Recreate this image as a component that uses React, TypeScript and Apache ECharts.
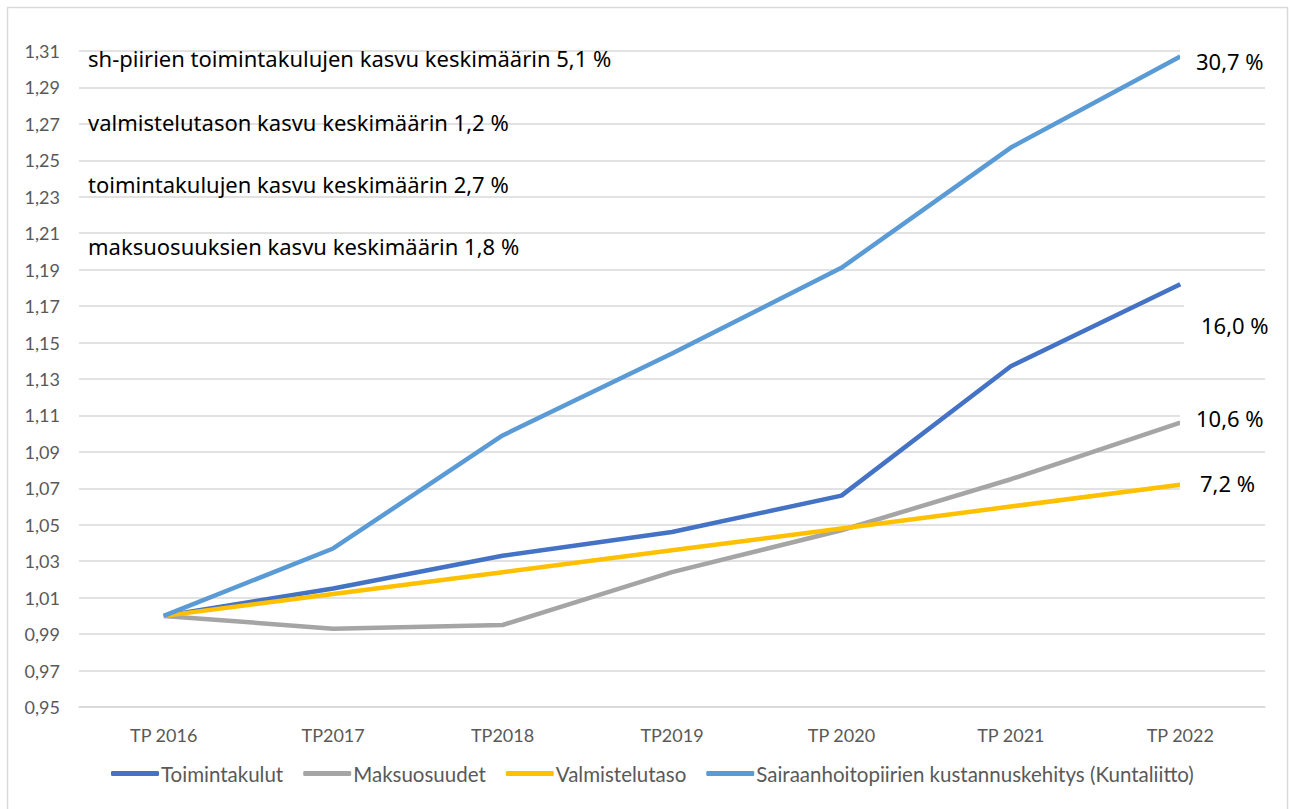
import React, { useEffect, useRef } from "react";
import * as echarts from "echarts";

const categories = ["TP 2016", "TP2017", "TP2018", "TP2019", "TP 2020", "TP 2021", "TP 2022"];
const toimintakulut = [1.0, 1.015, 1.033, 1.046, 1.066, 1.137, 1.182];
const maksuosuudet = [1.0, 0.993, 0.995, 1.024, 1.047, 1.075, 1.106];
const valmistelutaso = [1.0, 1.012, 1.024, 1.036, 1.048, 1.06, 1.072];
const sairaanhoito = [1.0, 1.037, 1.099, 1.144, 1.191, 1.257, 1.307];
const seriesNames = [
  "Toimintakulut",
  "Maksuosuudet",
  "Valmistelutaso",
  "Sairaanhoitopiirien kustannuskehitys (Kuntaliitto)",
];
const notes = [
  "sh-piirien toimintakulujen kasvu keskimäärin 5,1 %",
  "valmistelutason kasvu keskimäärin 1,2 %",
  "toimintakulujen kasvu keskimäärin 2,7 %",
  "maksuosuuksien kasvu keskimäärin 1,8 %",
];
const endLabels = ["16,0 %", "10,6 %", "7,2 %", "30,7 %"];

const FONT = "Lato, 'Noto Sans', sans-serif";
const NOTE_FONT = "'Noto Sans', sans-serif";

export default function App() {
  const ref = useRef<HTMLDivElement>(null);
  useEffect(() => {
    if (!ref.current) return;
    const chart = echarts.init(ref.current, undefined, { renderer: "svg" });
    const colors = ["#4472C4", "#A5A5A5", "#FFC000", "#5B9BD5"];
    const data = [toimintakulut, maksuosuudet, valmistelutaso, sairaanhoito];
    const noteY = [58, 122, 184, 246];
    const endPos = [
      [1201, 325],
      [1196, 418],
      [1200, 483],
      [1196, 61],
    ];
    const boxes = [
      [1184, 300, 50],
      [1180, 397, 42],
      [1180, 462, 42],
      [1180, 40, 42],
    ];
    chart.setOption({
      animation: false,
      backgroundColor: "#ffffff",
      textStyle: { fontFamily: FONT },
      color: colors,
      grid: { left: 79, right: 25, top: 51, bottom: 102, containLabel: false },
      xAxis: {
        type: "category",
        data: categories,
        boundaryGap: true,
        axisLine: { show: true, lineStyle: { color: "#D9D9D9", width: 1.5 } },
        axisTick: { show: false },
        axisLabel: { color: "#595959", fontSize: 18, margin: 19, fontFamily: FONT },
      },
      yAxis: {
        type: "value",
        min: 0.95,
        max: 1.31,
        interval: 0.02,
        axisLine: { show: false },
        axisTick: { show: false },
        splitLine: { lineStyle: { color: "#D9D9D9", width: 1.5 } },
        axisLabel: {
          color: "#595959",
          fontSize: 18,
          margin: 19,
          fontFamily: FONT,
          formatter: (v: number) => v.toFixed(2).replace(".", ","),
        },
      },
      legend: {
        bottom: 20,
        left: 106,
        itemWidth: 48,
        itemHeight: 5,
        itemGap: 20,
        icon: "roundRect",
        textStyle: { color: "#595959", fontSize: 20.5, fontFamily: FONT, padding: [0, 0, 0, -3] },
        data: seriesNames,
      },
      series: data.map((d, i) => ({
        name: seriesNames[i],
        type: "line",
        data: d,
        symbol: "none",
        lineStyle: { width: 4.5, color: colors[i] },
        itemStyle: { color: colors[i] },
        z: 2 + i,
      })),
      graphic: [
        {
          type: "rect",
          shape: { x: 7.5, y: 7.5, width: 1280, height: 820 },
          style: { fill: "none", stroke: "#D9D9D9", lineWidth: 1.5 },
          silent: true,
        },
        ...boxes.map((b) => ({
          type: "rect",
          z: 50,
          silent: true,
          shape: { x: b[0], y: b[1], width: 1275 - b[0], height: b[2] },
          style: { fill: "#ffffff" },
        })),
        ...notes.map((t, i) => ({
          type: "text",
          x: 88,
          y: noteY[i],
          z: 60,
          style: {
            text: t,
            fill: "#000000",
            font: `22px ${NOTE_FONT}`,
            verticalAlign: "middle",
          },
        })),
        ...endLabels.map((t, i) => ({
          type: "text",
          x: endPos[i][0],
          y: endPos[i][1],
          z: 60,
          style: {
            text: t,
            fill: "#000000",
            font: `22px ${NOTE_FONT}`,
            verticalAlign: "middle",
          },
        })),
      ],
    });
    return () => chart.dispose();
  }, []);
  return (
    <div
      ref={ref}
      style={{ position: "absolute", left: 0, top: 0, width: 1290, height: 809 }}
    />
  );
}
